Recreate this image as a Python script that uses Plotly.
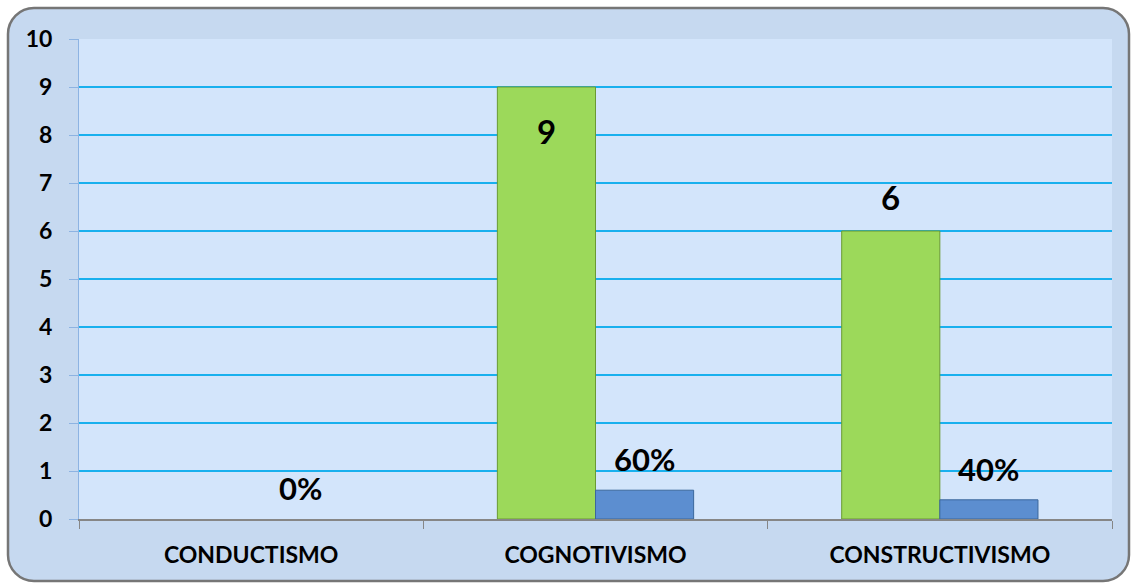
import plotly.graph_objects as go

categories = ["CONDUCTISMO", "COGNOTIVISMO", "CONSTRUCTIVISMO"]
frecuencia = [0, 9, 6]
porcentaje = [0.0, 0.6, 0.4]
y_ticks = list(range(0, 11))

FIG_W, FIG_H = 1135, 587
L, R, T, B = 79, 23, 39, 68
PW, PH = FIG_W - L - R, FIG_H - T - B
BARGAP = 0.43
FONT = "Lato, 'Open Sans', Arial, sans-serif"

fig = go.Figure()
fig.add_trace(go.Bar(x=categories, y=frecuencia, name="Frecuencia",
                     marker=dict(color="#9CD95A",
                                 line=dict(color="#6A9A33", width=[1 if v > 0 else 0 for v in frecuencia]))))
fig.add_trace(go.Bar(x=categories, y=porcentaje, name="Porcentaje",
                     marker=dict(color="#5C8ED0",
                                 line=dict(color="#3B679C", width=[1 if v > 0 else 0 for v in porcentaje]))))

# label annotations
cat_w = PW / len(categories)
bar_w = cat_w * (1 - BARGAP) / 2
ann = []
for c, f, p in zip(categories, frecuencia, porcentaje):
    if f > 0:
        inside = f >= max(y_ticks) - 1
        ann.append(dict(x=c, y=f, xref="x", yref="y", text=f"<b>{f}</b>", showarrow=False,
                        xshift=-bar_w / 2, yshift=-44 if inside else 34,
                        font=dict(size=33, color="black", family=FONT)))
    ann.append(dict(x=c, y=p, xref="x", yref="y", text=f"<b>{round(p*100)}%</b>", showarrow=False,
                    xshift=bar_w / 2, yshift=31,
                    font=dict(size=31, color="black", family=FONT)))

def px2paper(x, y):
    return (x - L) / PW, (FIG_H - B - y) / PH

def fmt(x, y):
    a, b = px2paper(x, y)
    return f"{a:.5f},{b:.5f}"

def rounded_rect(x0, y0, x1, y1, r):
    k = 0.5523 * r
    return (f"M{fmt(x0 + r, y0)} L{fmt(x1 - r, y0)} "
            f"C{fmt(x1 - r + k, y0)} {fmt(x1, y0 + r - k)} {fmt(x1, y0 + r)} "
            f"L{fmt(x1, y1 - r)} "
            f"C{fmt(x1, y1 - r + k)} {fmt(x1 - r + k, y1)} {fmt(x1 - r, y1)} "
            f"L{fmt(x0 + r, y1)} "
            f"C{fmt(x0 + r - k, y1)} {fmt(x0, y1 - r + k)} {fmt(x0, y1 - r)} "
            f"L{fmt(x0, y0 + r)} "
            f"C{fmt(x0, y0 + r - k)} {fmt(x0 + r - k, y0)} {fmt(x0 + r, y0)} Z")

rr = rounded_rect(8, 8, 1129, 581, 26)
outer = f"M{fmt(0,0)} L{fmt(FIG_W,0)} L{fmt(FIG_W,FIG_H)} L{fmt(0,FIG_H)} Z "
shapes = [
    dict(type="path", xref="paper", yref="paper", path=outer + rr, fillrule="evenodd",
         fillcolor="white", line=dict(width=0), layer="above"),
    dict(type="path", xref="paper", yref="paper", path=rr, fillcolor="rgba(0,0,0,0)",
         line=dict(color="#767676", width=2.5), layer="above"),
]

fig.update_layout(
    width=FIG_W, height=FIG_H,
    margin=dict(l=L, r=R, t=T, b=B),
    paper_bgcolor="#C6D9F0", plot_bgcolor="#D3E5FB",
    barmode="group", bargap=BARGAP, bargroupgap=0,
    showlegend=False,
    annotations=ann, shapes=shapes,
    font=dict(family=FONT, color="black"),
)
fig.update_yaxes(range=[0, 10], tickvals=y_ticks, ticktext=[f"<b>{v}</b>" for v in y_ticks],
                 showgrid=True, gridcolor="#19B0EE", gridwidth=2, zeroline=False,
                 showline=True, linecolor="#8DB3E2", linewidth=1,
                 ticks="outside", ticklen=9, tickcolor="#8DB3E2", tickwidth=1,
                 tickfont=dict(size=23, family=FONT, color="black"), ticklabelstandoff=12)
fig.update_xaxes(tickvals=categories, ticktext=[f"<b>{c}</b>" for c in categories],
                 showline=True, linecolor="#868686", linewidth=2,
                 ticks="outside", tickson="boundaries", ticklen=8, tickcolor="#868686", tickwidth=1,
                 tickfont=dict(size=23, family=FONT, color="black"), ticklabelstandoff=14)

fig.write_html("out.html", config={"displayModeBar": False},
               post_script="document.body.style.margin='0';document.body.style.overflow='hidden';")
